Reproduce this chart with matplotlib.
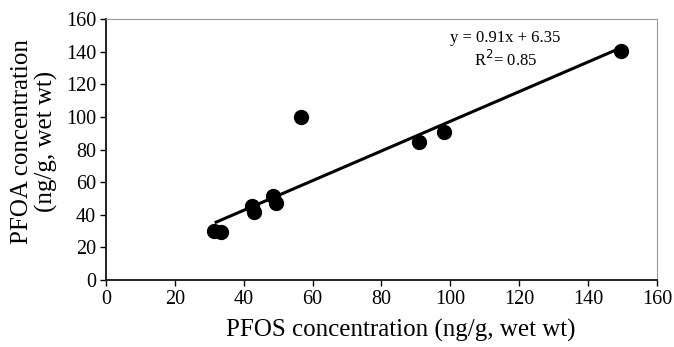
import numpy as np
import matplotlib.pyplot as plt

# PFOS vs PFOA concentrations (ng/g, wet wt)
pfos = [31.5, 33.5, 42.5, 43.0, 48.5, 49.5, 56.5, 91.0, 98.0, 149.5]
pfoa = [30.0, 29.5, 45.5, 41.5, 51.5, 47.5, 100.0, 84.5, 90.5, 140.5]

# regression reported on the chart
slope = 0.91
intercept = 6.35
r2 = 0.85
fit_x = [32.0, 149.0]

plt.rcParams['font.family'] = ['Liberation Serif', 'DejaVu Serif']

fig = plt.figure(figsize=(6.74, 3.47), dpi=100)
ax = fig.add_axes([0.157, 0.193, 0.818, 0.752])

fx = np.array(fit_x)
ax.plot(fx, slope * fx + intercept, color='black', lw=2.2, zorder=2)
ax.plot(pfos, pfoa, 'o', color='black', markersize=10, zorder=3)

ax.set_xlim(0, 160)
ax.set_ylim(0, 160)
ax.set_xticks(np.arange(0, 161, 20))
ax.set_yticks(np.arange(0, 161, 20))
ax.tick_params(labelsize=14.5, direction='out', length=4, width=1,
               colors='black', pad=3)

for s in ['top', 'right']:
    ax.spines[s].set_color('#999999')
for s in ['left', 'bottom']:
    ax.spines[s].set_color('#222222')
    ax.spines[s].set_linewidth(1.4)

ax.set_xlabel('PFOS concentration (ng/g, wet wt)', fontsize=18)
ax.xaxis.set_label_coords(0.535, -0.15)
ax.set_ylabel('PFOA concentration\n(ng/g, wet wt)', fontsize=18,
              linespacing=1.1)
ax.yaxis.set_label_coords(-0.087, 0.53)

ax.text(116, 148.5, f'y = {slope}x + {intercept}', fontsize=12,
        ha='center', va='center')
ax.text(116, 135, f'R$^2$= {r2}', fontsize=12, ha='center', va='center')

fig.savefig('out.png', dpi=100)
